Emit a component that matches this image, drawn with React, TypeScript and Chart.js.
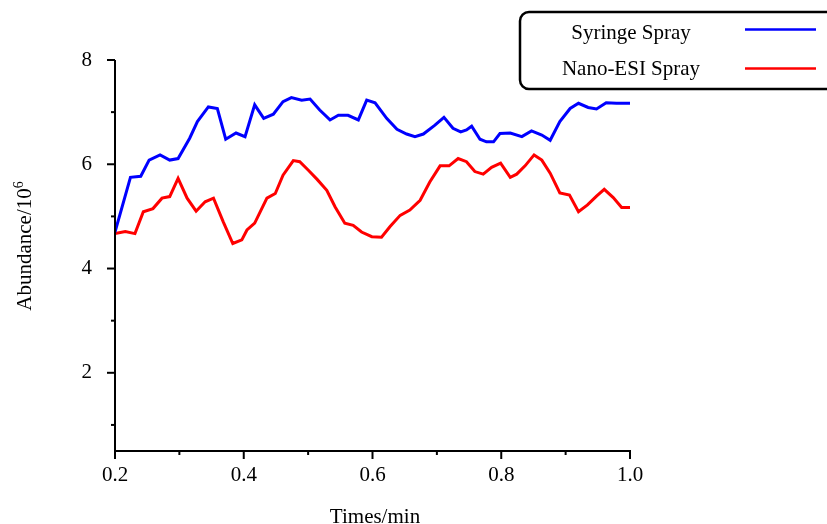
import React, { useEffect, useRef } from 'react';
import { Chart, registerables } from 'chart.js';

Chart.register(...registerables);

const FONT = '"Liberation Serif", "Times New Roman", serif';

const seriesNames = ['Syringe Spray', 'Nano-ESI Spray'];
const seriesColors = ['#0000ff', '#ff0000'];

const syringeTimes = [
  0.2, 0.224, 0.24, 0.253, 0.27, 0.285, 0.298, 0.316, 0.328, 0.345, 0.359, 0.372, 0.388, 0.402,
  0.417, 0.431, 0.446, 0.461, 0.474, 0.49, 0.503, 0.518, 0.534, 0.547, 0.562, 0.578, 0.591, 0.604,
  0.622, 0.638, 0.653, 0.666, 0.679, 0.697, 0.711, 0.725, 0.737, 0.746, 0.754, 0.767, 0.777, 0.788,
  0.798, 0.814, 0.832, 0.847, 0.863, 0.876, 0.891, 0.907, 0.92, 0.935, 0.948, 0.963, 0.979, 1.0,
];
const syringeValues = [
  4.7, 5.75, 5.77, 6.08, 6.18, 6.08, 6.11, 6.5, 6.82, 7.1, 7.07, 6.48, 6.6, 6.53,
  7.14, 6.88, 6.96, 7.2, 7.28, 7.23, 7.25, 7.04, 6.85, 6.94, 6.94, 6.85, 7.23, 7.18,
  6.88, 6.67, 6.58, 6.53, 6.58, 6.75, 6.9, 6.69, 6.62, 6.66, 6.73, 6.48, 6.43, 6.43,
  6.59, 6.6, 6.53, 6.64, 6.56, 6.46, 6.82, 7.07, 7.17, 7.09, 7.06, 7.18, 7.17, 7.17,
];

const nanoTimes = [
  0.2, 0.216, 0.231, 0.244, 0.259, 0.273, 0.285, 0.298, 0.312, 0.326, 0.34, 0.353, 0.368, 0.383,
  0.397, 0.405, 0.417, 0.436, 0.449, 0.461, 0.477, 0.487, 0.5, 0.514, 0.529, 0.542, 0.557, 0.57,
  0.583, 0.599, 0.614, 0.627, 0.643, 0.658, 0.674, 0.689, 0.705, 0.719, 0.733, 0.746, 0.759, 0.772,
  0.785, 0.799, 0.814, 0.824, 0.837, 0.851, 0.863, 0.876, 0.891, 0.906, 0.92, 0.934, 0.948, 0.96,
  0.974, 0.987, 1.0,
];
const nanoValues = [
  4.67, 4.71, 4.67, 5.09, 5.15, 5.35, 5.38, 5.73, 5.35, 5.1, 5.28, 5.35, 4.9, 4.48,
  4.55, 4.74, 4.87, 5.35, 5.44, 5.79, 6.07, 6.05, 5.89, 5.71, 5.5, 5.18, 4.87, 4.83,
  4.7, 4.61, 4.6, 4.8, 5.02, 5.12, 5.31, 5.66, 5.97, 5.97, 6.11, 6.05, 5.86, 5.81,
  5.94, 6.02, 5.75, 5.81, 5.97, 6.18, 6.08, 5.83, 5.45, 5.41, 5.09, 5.22, 5.39, 5.52,
  5.36, 5.17, 5.17,
];

const xTicks = [0.2, 0.3, 0.4, 0.5, 0.6, 0.7, 0.8, 0.9, 1.0];
const xLabels = [0.2, 0.4, 0.6, 0.8, 1.0];
const yTicks = [1, 2, 3, 4, 5, 6, 7, 8];
const yLabels = [2, 4, 6, 8];
const xMin = 0.2;
const xMax = 1.0;
const yMin = 0.5;
const yMax = 8;
const xTitle = 'Times/min';
const yTitle = 'Abundance/10';
const yTitleSup = '6';

const axesPlugin = {
  id: 'customAxes',
  afterDatasetsDraw(chart: any) {
    const { ctx, chartArea, scales } = chart;
    const xs = scales.x;
    const ys = scales.y;
    const left = chartArea.left;
    const bottom = chartArea.bottom;
    ctx.save();
    ctx.strokeStyle = '#000';
    ctx.lineWidth = 2;
    ctx.lineCap = 'butt';
    ctx.beginPath();
    ctx.moveTo(left, ys.getPixelForValue(yMax));
    ctx.lineTo(left, bottom + 1);
    ctx.stroke();
    ctx.beginPath();
    ctx.moveTo(left - 1, bottom);
    ctx.lineTo(xs.getPixelForValue(xMax) + 1, bottom);
    ctx.stroke();
    xTicks.forEach((v) => {
      const px = xs.getPixelForValue(v);
      const len = xLabels.includes(v) ? 8 : 4;
      ctx.beginPath();
      ctx.moveTo(px, bottom);
      ctx.lineTo(px, bottom + len);
      ctx.stroke();
    });
    yTicks.forEach((v) => {
      const py = ys.getPixelForValue(v);
      const len = yLabels.includes(v) ? 8 : 4;
      ctx.beginPath();
      ctx.moveTo(left, py);
      ctx.lineTo(left - len, py);
      ctx.stroke();
    });
    ctx.restore();
  },
  afterDraw(chart: any) {
    const { ctx } = chart;
    ctx.save();
    ctx.fillStyle = '#000';
    ctx.font = `21px ${FONT}`;
    ctx.textAlign = 'center';
    ctx.textBaseline = 'alphabetic';
    ctx.fillText(xTitle, 375, 523);
    ctx.save();
    ctx.translate(31, 246);
    ctx.rotate(-Math.PI / 2);
    ctx.font = `21px ${FONT}`;
    const mainW = ctx.measureText(yTitle).width;
    ctx.font = `14px ${FONT}`;
    const supW = ctx.measureText(yTitleSup).width;
    const total = mainW + supW;
    ctx.textAlign = 'left';
    ctx.font = `21px ${FONT}`;
    ctx.fillText(yTitle, -total / 2, 0);
    ctx.font = `14px ${FONT}`;
    ctx.fillText(yTitleSup, -total / 2 + mainW, -8);
    ctx.restore();

    ctx.lineWidth = 2.5;
    ctx.strokeStyle = '#000';
    ctx.beginPath();
    (ctx as any).roundRect(520, 12, 330, 77, 9);
    ctx.stroke();
    ctx.font = `21px ${FONT}`;
    ctx.textAlign = 'center';
    const rows = [39, 75];
    const lineYs = [29.5, 68.5];
    seriesNames.forEach((name, i) => {
      ctx.fillStyle = '#000';
      ctx.fillText(name, 631, rows[i]);
      ctx.strokeStyle = seriesColors[i];
      ctx.lineWidth = 2.5;
      ctx.beginPath();
      ctx.moveTo(745, lineYs[i]);
      ctx.lineTo(816, lineYs[i]);
      ctx.stroke();
    });
    ctx.restore();
  },
};

export default function App() {
  const ref = useRef<HTMLCanvasElement>(null);
  useEffect(() => {
    document.body.style.margin = '0';
    const canvas = ref.current!;
    const chart = new Chart(canvas, {
      type: 'line',
      data: {
        datasets: [
          {
            label: seriesNames[0],
            data: syringeTimes.map((t, i) => ({ x: t, y: syringeValues[i] })),
            borderColor: seriesColors[0],
            borderWidth: 3,
            pointRadius: 0,
            tension: 0,
            fill: false,
          },
          {
            label: seriesNames[1],
            data: nanoTimes.map((t, i) => ({ x: t, y: nanoValues[i] })),
            borderColor: seriesColors[1],
            borderWidth: 3,
            pointRadius: 0,
            tension: 0,
            fill: false,
          },
        ],
      },
      options: {
        responsive: false,
        animation: false,
        layout: { padding: { top: 60, right: 197, left: 0, bottom: 0 } },
        plugins: {
          legend: { display: false },
          tooltip: { enabled: false },
          title: { display: false },
        },
        scales: {
          x: {
            type: 'linear',
            min: xMin,
            max: xMax,
            grid: { display: false },
            border: { display: false },
            afterBuildTicks: (s: any) => {
              s.ticks = xTicks.map((v) => ({ value: v }));
            },
            afterFit: (s: any) => {
              s.height = 73;
            },
            ticks: {
              autoSkip: false,
              maxRotation: 0,
              padding: 4,
              color: '#000',
              font: { family: FONT, size: 21 },
              callback: (v: any) => (xLabels.includes(v) ? Number(v).toFixed(1) : ''),
            },
          },
          y: {
            type: 'linear',
            min: yMin,
            max: yMax,
            grid: { display: false },
            border: { display: false },
            afterBuildTicks: (s: any) => {
              s.ticks = yTicks.map((v) => ({ value: v }));
            },
            afterFit: (s: any) => {
              s.width = 115;
            },
            ticks: {
              autoSkip: false,
              padding: 15,
              color: '#000',
              font: { family: FONT, size: 21 },
              callback: (v: any) => (yLabels.includes(v) ? String(v) : ''),
            },
          },
        },
      },
      plugins: [axesPlugin],
    } as any);
    return () => chart.destroy();
  }, []);
  return (
    <div style={{ width: 827, height: 524 }}>
      <canvas ref={ref} width={827} height={524} style={{ display: 'block' }} />
    </div>
  );
}
